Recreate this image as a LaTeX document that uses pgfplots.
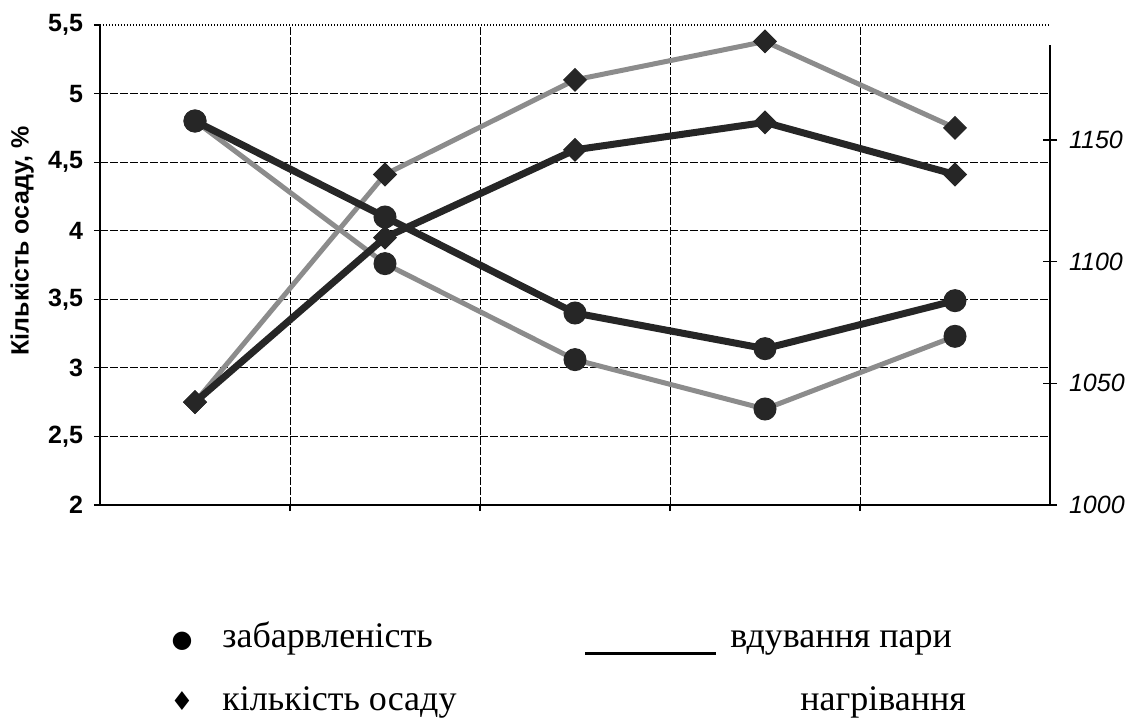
\documentclass[border=0pt]{standalone}
\usepackage{fontspec}
\setmainfont{Liberation Serif}
\setsansfont{Liberation Sans}
\newfontfamily\sym{DejaVu Sans}
\usepackage{pgfplots}
\pgfplotsset{compat=1.18}

\begin{document}
\begin{tikzpicture}
\useasboundingbox (-50pt,-106.5pt) rectangle (517pt,252.5pt);
\begin{axis}[
    at={(0,0)}, anchor=south west,
    scale only axis, width=475pt, height=240pt,
    xmin=0.5, xmax=5.5, ymin=2, ymax=5.5,
    axis x line=bottom, axis y line=left,
    axis line style={-, line width=0.8pt},
    xtick={1.5,2.5,3.5,4.5}, xticklabels={},
    ytick={2,2.5,3,3.5,4,4.5,5},
    extra y ticks={5.5},
    extra y tick style={grid style={black, densely dotted, line width=0.6pt}},
    grid=major,
    grid style={black, dash pattern=on 4pt off 1pt, line width=0.5pt},
    tick align=outside, major tick length=3pt,
    tick style={black, line width=0.6pt},
    /pgf/number format/.cd, use comma, assume math mode=true, fixed,
    /pgfplots/.cd,
    yticklabel style={font=\sffamily\bfseries\fontsize{12.5}{14}\selectfont, xshift=-2pt},
    ylabel={Кількість осаду, \%},
    ylabel style={font=\sffamily\bfseries\fontsize{12.5}{14}\selectfont,
                  at={(axis description cs:-0.082,0.55)}, anchor=center},
    clip=false
]
% нагрівання (сірі лінії)
\addplot[black!45, line width=2.5pt, mark=*, mark size=5.5pt,
         mark options={black!85, fill=black!85, line width=0.5pt}]
    coordinates {(1,4.8) (2,3.76) (3,3.06) (4,2.70) (5,3.23)};
\addplot[black!45, line width=2.5pt, mark=square*, mark size=4pt,
         mark options={black!85, fill=black!85, line width=0.5pt, rotate=45}]
    coordinates {(1,2.75) (2,4.41) (3,5.10) (4,5.38) (5,4.75)};
% вдування пари (чорні лінії)
\addplot[black!85, line width=3.5pt, mark=*, mark size=5.5pt,
         mark options={black!85, fill=black!85, line width=0.5pt}]
    coordinates {(1,4.8) (2,4.10) (3,3.40) (4,3.14) (5,3.49)};
\addplot[black!85, line width=3.5pt, mark=square*, mark size=4pt,
         mark options={black!85, fill=black!85, line width=0.5pt, rotate=45}]
    coordinates {(1,2.75) (2,3.95) (3,4.59) (4,4.79) (5,4.41)};
\end{axis}

\begin{axis}[
    at={(0,0)}, anchor=south west,
    scale only axis, width=475pt, height=240pt,
    xmin=0.5, xmax=5.5, ymin=1000, ymax=1197.3,
    axis x line=none, axis y line*=right,
    y axis line style={draw=none},
    ytick={1000,1050,1100,1150},
    tick align=center, major tick length=7pt,
    tick style={black, line width=0.6pt},
    /pgf/number format/.cd, assume math mode=true, 1000 sep={},
    /pgfplots/.cd,
    yticklabel style={font=\sffamily\itshape\fontsize{12.5}{14}\selectfont, xshift=2.5pt},
    clip=false
]
\draw[line width=0.8pt] (axis cs:5.5,1000) -- (axis cs:5.5,1189);
\end{axis}

% легенда
\begin{scope}[every node/.style={font=\fontsize{18}{21}\selectfont, inner sep=0pt}]
\node[anchor=base, font=\sym\fontsize{12}{14}\selectfont] at (41pt,-71pt) {●};
\node[anchor=base west] at (61pt,-71pt) {забарвленість};
\draw[line width=1.5pt] (242.5pt,-74pt) -- (308pt,-74pt);
\node[anchor=base west] at (315pt,-71pt) {вдування пари};
\node[anchor=base, font=\sym\fontsize{13}{15}\selectfont] at (41pt,-102.5pt) {♦};
\node[anchor=base west] at (61pt,-102.5pt) {кількість осаду};
\node[anchor=base west] at (350pt,-102.5pt) {нагрівання};
\end{scope}
\end{tikzpicture}
\end{document}
